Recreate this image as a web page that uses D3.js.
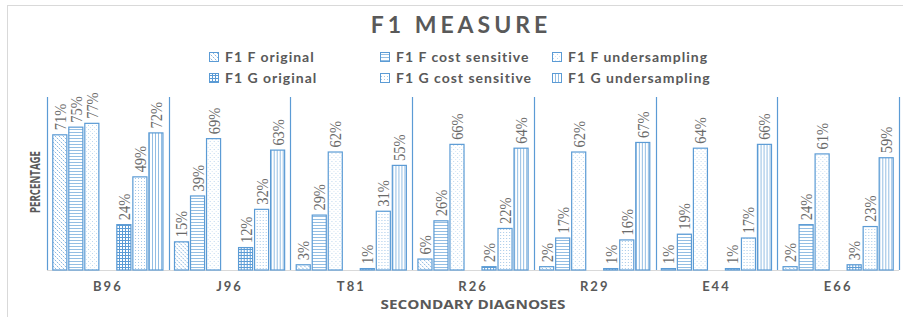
<!DOCTYPE html>
<html>
<head>
<meta charset="utf-8">
<script src="https://cdnjs.cloudflare.com/ajax/libs/d3/7.8.5/d3.min.js"></script>
<style>
  body { margin: 0; background: #fff; }
  svg { display: block; }
</style>
</head>
<body>
<svg id="chart" width="903" height="317"></svg>
<script>
// data (percent)
var categories = ["B96", "J96", "T81", "R26", "R29", "E44", "E66"];
var f1FOriginal = [71, 15, 3, 6, 2, 1, 2];
var f1FCost = [75, 39, 29, 26, 17, 19, 24];
var f1FUnder = [77, 69, 62, 66, 62, 64, 61];
var f1GOriginal = [24, 12, 1, 2, 1, 1, 3];
var f1GCost = [49, 32, 31, 22, 16, 17, 23];
var f1GUnder = [72, 63, 55, 64, 67, 66, 59];
var seriesNames = ["F1 F original", "F1 F cost sensitive", "F1 F undersampling",
                   "F1 G original", "F1 G cost sensitive", "F1 G undersampling"];

var blue = "#5b9bd5";
var grey = "#595959";

var series = [
    { key: "fOrig", name: seriesNames[0], values: f1FOriginal, pat: "pFOrig" },
    { key: "fCost", name: seriesNames[1], values: f1FCost, pat: "pFCost" },
    { key: "fUnder", name: seriesNames[2], values: f1FUnder, pat: "pFUnder" },
    { key: "gOrig", name: seriesNames[3], values: f1GOriginal, pat: "pGOrig" },
    { key: "gCost", name: seriesNames[4], values: f1GCost, pat: "pGCost" },
    { key: "gUnder", name: seriesNames[5], values: f1GUnder, pat: "pGUnder" }
];
// empty slot between the F and G groups
var slots = ["fOrig", "fCost", "fUnder", "gap", "gOrig", "gCost", "gUnder"];

var svg = d3.select("#chart");

// patterns
var defs = svg.append("defs");
function pattern(id, w, h, draw) {
    var p = defs.append("pattern").attr("id", id)
        .attr("patternUnits", "userSpaceOnUse")
        .attr("width", w).attr("height", h);
    p.append("rect").attr("width", w).attr("height", h).attr("fill", "#fff");
    draw(p);
}
function dot(p, x, y, op) {
    p.append("rect").attr("x", x).attr("y", y).attr("width", 1).attr("height", 1)
        .attr("fill", blue).attr("opacity", op);
}
pattern("pFOrig", 4, 4, function(p){
    dot(p, 0, 0, 0.7); dot(p, 2, 2, 0.7);
    dot(p, 1, 1, 0.25); dot(p, 3, 3, 0.25);
});
pattern("pFCost", 3, 3, function(p){
    p.append("rect").attr("width", 3).attr("height", 1).attr("fill", blue).attr("opacity", 0.65);
});
pattern("pFUnder", 4, 4, function(p){
    dot(p, 1, 1, 0.4); dot(p, 3, 3, 0.25);
});
pattern("pGOrig", 3, 3, function(p){
    p.append("rect").attr("width", 3).attr("height", 1).attr("fill", blue);
    p.append("rect").attr("width", 1).attr("height", 3).attr("fill", blue);
});
pattern("pGCost", 3, 3, function(p){
    dot(p, 1, 1, 0.55);
});
pattern("pGUnder", 3, 3, function(p){
    p.append("rect").attr("width", 1).attr("height", 3).attr("fill", blue).attr("opacity", 0.65);
});

// chart frame
svg.append("rect")
    .attr("x", 7.5).attr("y", 5.5)
    .attr("width", 1000).attr("height", 1000)
    .attr("fill", "none").attr("stroke", "#d9d9d9");

var plotLeft = 47, plotRight = 899, plotTop = 98, plotBase = 270;

var x0 = d3.scaleBand().domain(categories).range([plotLeft, plotRight]).padding(0);
var x1 = d3.scaleBand().domain(slots).range([0, x0.bandwidth()])
    .paddingInner(0.06).paddingOuter(0.33);
var y = d3.scaleLinear().domain([0, 90]).range([plotBase, plotTop]);

// title
svg.append("text")
    .attr("x", 461).attr("y", 33)
    .attr("text-anchor", "middle")
    .attr("font-family", "Lato, 'Open Sans', sans-serif")
    .attr("font-weight", "bold")
    .attr("font-size", "23px")
    .attr("letter-spacing", "4px")
    .attr("fill", grey)
    .text("F1 MEASURE");

// legend
var legendCols = [209, 380, 552];
var legendRows = [57, 78];
var legend = svg.append("g").selectAll("g")
    .data(series)
    .enter().append("g")
    .attr("transform", function(d, i) {
        return "translate(" + legendCols[i % 3] + "," + legendRows[Math.floor(i / 3)] + ")";
    });
legend.append("rect")
    .attr("x", 0.5).attr("y", -4.5)
    .attr("width", 9).attr("height", 9)
    .attr("fill", function(d) { return "url(#" + d.pat + ")"; })
    .attr("stroke", blue);
legend.append("text")
    .attr("x", 16).attr("y", 5)
    .attr("font-family", "Lato, 'Open Sans', sans-serif")
    .attr("font-weight", "bold")
    .attr("font-size", "14px")
    .attr("letter-spacing", "1px")
    .attr("fill", grey)
    .text(function(d) { return d.name; });

// baseline
svg.append("line")
    .attr("x1", plotLeft).attr("x2", plotRight)
    .attr("y1", plotBase + 0.5).attr("y2", plotBase + 0.5)
    .attr("stroke", "#d9d9d9");

// bars
var groups = svg.append("g").selectAll("g")
    .data(categories)
    .enter().append("g")
    .attr("transform", function(d) { return "translate(" + x0(d) + ",0)"; });

var bars = groups.selectAll("g")
    .data(function(c, ci) {
        return series.map(function(s) { return { s: s, v: s.values[ci] }; });
    })
    .enter().append("g");

bars.append("rect")
    .attr("x", function(d) { return x1(d.s.key) + 0.5; })
    .attr("y", function(d) { return y(d.v) + 0.5; })
    .attr("width", x1.bandwidth() - 1)
    .attr("height", function(d) { return Math.max(plotBase - y(d.v) - 0.5, 0.5); })
    .attr("fill", function(d) { return "url(#" + d.s.pat + ")"; })
    .attr("stroke", blue)
    .attr("stroke-width", 1.2);

// value labels, condensed serif reading upwards
bars.append("text")
    .attr("transform", function(d) {
        var cx = x1(d.s.key) + x1.bandwidth() / 2;
        return "translate(" + cx + "," + (y(d.v) - 4) + ") rotate(-90) scale(0.85,1)";
    })
    .attr("dy", "0.35em")
    .attr("text-anchor", "start")
    .attr("font-family", "'Liberation Serif', 'Times New Roman', serif")
    .attr("font-size", "17px")
    .attr("fill", "#6a6a6a")
    .text(function(d) { return d.v + "%"; });

// category separators
var seps = [plotLeft].concat(categories.map(function(c) { return x0(c) + x0.bandwidth(); }));
svg.append("g").selectAll("line")
    .data(seps)
    .enter().append("line")
    .attr("x1", function(d) { return Math.round(d) + 0.5; })
    .attr("x2", function(d) { return Math.round(d) + 0.5; })
    .attr("y1", 97).attr("y2", plotBase)
    .attr("stroke", blue)
    .attr("stroke-width", 1.2);

// x axis labels
var xAxis = svg.append("g")
    .attr("transform", "translate(0," + plotBase + ")")
    .call(d3.axisBottom(x0).tickSize(0).tickPadding(12));
xAxis.select(".domain").remove();
xAxis.selectAll("text")
    .attr("font-family", "Lato, 'Open Sans', sans-serif")
    .attr("font-weight", "bold")
    .attr("font-size", "13px")
    .attr("letter-spacing", "2px")
    .attr("fill", grey);

// axis titles
svg.append("text")
    .attr("x", 473).attr("y", 309)
    .attr("text-anchor", "middle")
    .attr("font-family", "'Open Sans', sans-serif")
    .attr("font-weight", "bold")
    .attr("font-size", "11.5px")
    .attr("textLength", 185)
    .attr("lengthAdjust", "spacingAndGlyphs")
    .attr("fill", grey)
    .text("SECONDARY DIAGNOSES");

svg.append("text")
    .attr("transform", "translate(40,182) rotate(-90)")
    .attr("text-anchor", "middle")
    .attr("font-family", "'Open Sans', sans-serif")
    .attr("font-weight", "bold")
    .attr("font-size", "14px")
    .attr("textLength", 62)
    .attr("lengthAdjust", "spacingAndGlyphs")
    .attr("fill", grey)
    .text("PERCENTAGE");
</script>
</body>
</html>
